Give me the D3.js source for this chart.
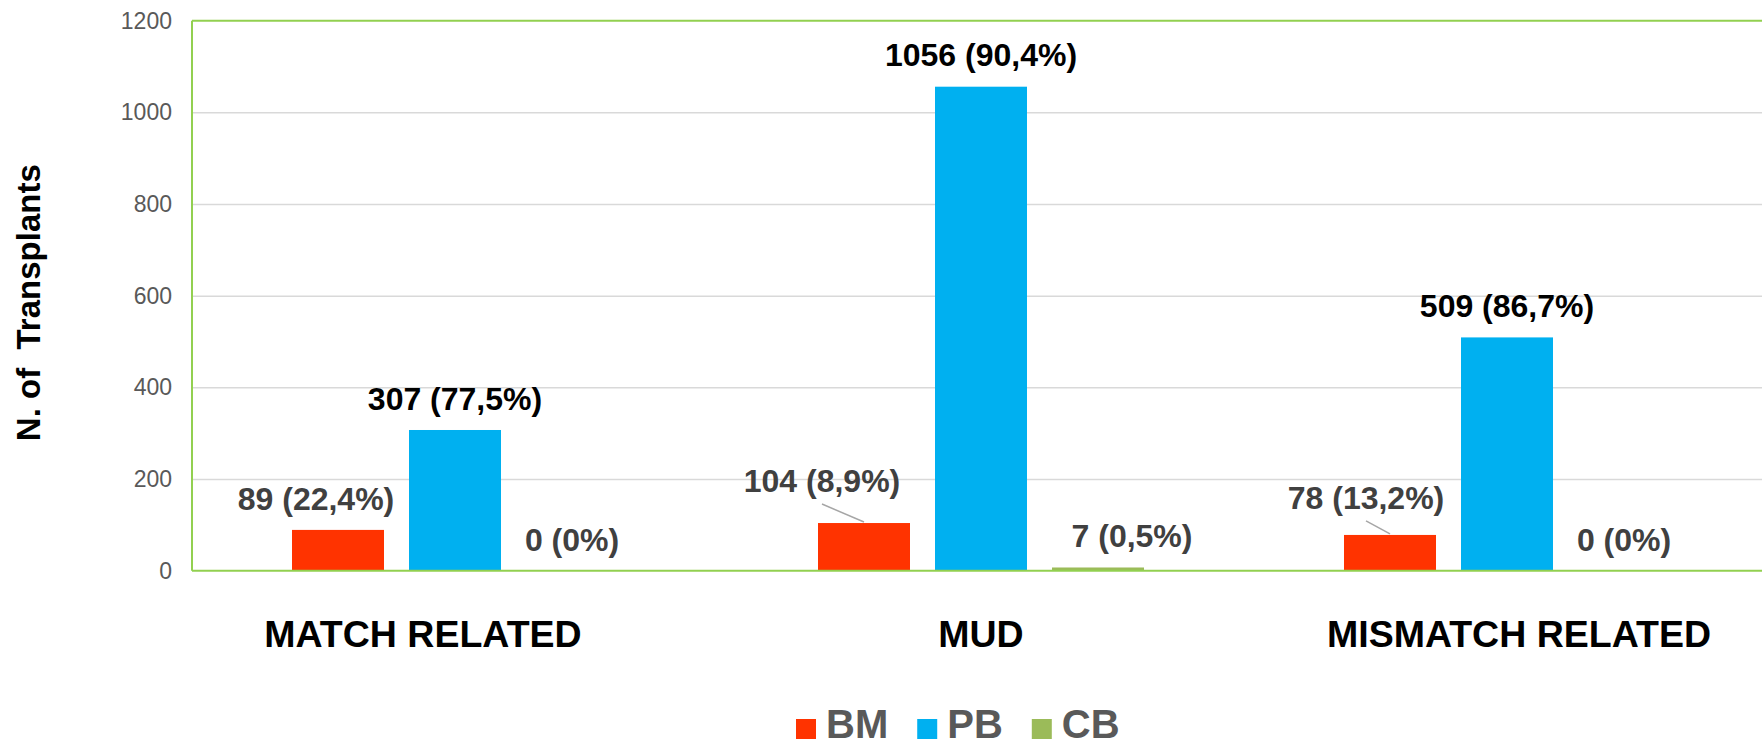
<!DOCTYPE html>
<html>
<head>
<meta charset="utf-8">
<script src="https://cdn.jsdelivr.net/npm/d3@7"></script>
<style>
  html, body { margin: 0; padding: 0; background: #fff; }
  svg { display: block; font-family: "Liberation Sans", Arial, Helvetica, sans-serif; }
</style>
</head>
<body>
<svg id="chart" width="1762" height="747"></svg>
<script>
// ---- data ----
const categories = ["MATCH RELATED", "MUD", "MISMATCH RELATED"];
const seriesNames = ["BM", "PB", "CB"];
const bmValues = [89, 104, 78];
const pbValues = [307, 1056, 509];
const cbValues = [0, 7, 0];
const bmPercents = ["22,4%", "8,9%", "13,2%"];
const pbPercents = ["77,5%", "90,4%", "86,7%"];
const cbPercents = ["0%", "0,5%", "0%"];
const yTicks = [0, 200, 400, 600, 800, 1000, 1200];

// ---- layout / style ----
const colors = { BM: "#ff3300", PB: "#00b0f0", CB: "#9bbb59" };
const labelColors = { BM: "#404040", PB: "#000000", CB: "#404040" };
// manual label nudges [dx, dy] relative to bar centre / bar top (per series, per category)
const labelShift = {
  BM: [[-22, -20], [-42, -31], [-24, -26]],
  PB: [[0, -20], [0, -21], [0, -20]],
  CB: [[0, -20], [34, -20], [0, -20]]
};
const leader = { BM: [false, true, true], PB: [false, false, false], CB: [false, false, false] };
const catLabelShift = [-32, 0, 12];

const svg = d3.select("#chart");
const mLeft = 192, mRight = 1770, mTop = 20.7, mBottom = 570.7;

const x0 = d3.scaleBand().domain(categories).range([mLeft, mRight]);
const x1 = d3.scaleBand().domain(seriesNames).range([-175.5, 175.5])
  .paddingInner(25 / 117).paddingOuter(12.5 / 117);
const y = d3.scaleLinear().domain([0, 1200]).range([mBottom, mTop]);

const values = { BM: bmValues, PB: pbValues, CB: cbValues };
const percents = { BM: bmPercents, PB: pbPercents, CB: cbPercents };

// gridlines
const grid = svg.append("g")
  .attr("transform", `translate(${mLeft},0)`)
  .call(d3.axisLeft(y).tickValues(yTicks.filter(t => t > 0 && t < 1200)).tickSize(-(mRight - mLeft)).tickFormat(""));
grid.select(".domain").remove();
grid.selectAll("line").attr("stroke", "#d9d9d9").attr("stroke-width", 1.5);

// y axis labels
const yAxis = svg.append("g")
  .attr("transform", `translate(${mLeft - 20},0)`)
  .call(d3.axisLeft(y).tickValues(yTicks).tickFormat(d3.format("d")).tickSize(0).tickPadding(0));
yAxis.select(".domain").remove();
yAxis.selectAll("text")
  .attr("font-size", 23).attr("fill", "#595959")
  .attr("font-family", "'Liberation Sans', Arial, sans-serif");

// bars
const data = [];
categories.forEach((c, i) => seriesNames.forEach(s => data.push({ c, i, s, v: values[s][i], p: percents[s][i] })));

svg.append("g").selectAll("rect").data(data).join("rect")
  .attr("x", d => x0(d.c) + x0.bandwidth() / 2 + x1(d.s))
  .attr("width", x1.bandwidth())
  .attr("y", d => y(d.v))
  .attr("height", d => y(0) - y(d.v))
  .attr("fill", d => colors[d.s]);

// plot border (green)
const border = svg.append("g").attr("stroke", "#92d050").attr("stroke-width", 2).attr("fill", "none");
border.append("line").attr("x1", mLeft).attr("x2", mRight).attr("y1", mTop).attr("y2", mTop);
border.append("line").attr("x1", mLeft).attr("x2", mLeft).attr("y1", mTop).attr("y2", mBottom);
border.append("line").attr("x1", mLeft).attr("x2", mRight).attr("y1", mBottom).attr("y2", mBottom);

// leader lines
data.filter(d => leader[d.s][d.i]).forEach(d => {
  const cx = x0(d.c) + x0.bandwidth() / 2 + x1(d.s) + x1.bandwidth() / 2;
  const [dx, dy] = labelShift[d.s][d.i];
  svg.append("line")
    .attr("x1", cx + dx).attr("y1", y(d.v) + dy + 12)
    .attr("x2", cx).attr("y2", y(d.v) - 1)
    .attr("stroke", "#a6a6a6").attr("stroke-width", 1.5);
});

// data labels
svg.append("g").selectAll("text").data(data).join("text")
  .attr("x", d => x0(d.c) + x0.bandwidth() / 2 + x1(d.s) + x1.bandwidth() / 2 + labelShift[d.s][d.i][0])
  .attr("y", d => y(d.v) + labelShift[d.s][d.i][1])
  .attr("text-anchor", "middle")
  .attr("font-size", 32).attr("font-weight", "bold")
  .attr("fill", d => labelColors[d.s])
  .text(d => `${d.v} (${d.p})`);

// category labels
svg.append("g").selectAll("text").data(categories).join("text")
  .attr("x", (c, i) => x0(c) + x0.bandwidth() / 2 + catLabelShift[i])
  .attr("y", 647)
  .attr("text-anchor", "middle")
  .attr("font-size", 37.5).attr("font-weight", "bold").attr("fill", "#000")
  .text(c => c);

// y axis title
svg.append("text")
  .attr("transform", `translate(40, ${(mTop + mBottom) / 2 + 7}) rotate(-90)`)
  .attr("text-anchor", "middle")
  .attr("font-size", 33).attr("font-weight", "bold").attr("fill", "#000")
  .style("white-space", "pre")
  .text("N. of  Transplants");

// legend
const legend = svg.append("g");
let lx = 796;
seriesNames.forEach(s => {
  legend.append("rect").attr("x", lx).attr("y", 719).attr("width", 20).attr("height", 20).attr("fill", colors[s]);
  const t = legend.append("text").attr("x", lx + 30).attr("y", 738)
    .attr("font-size", 40).attr("font-weight", "bold").attr("fill", "#595959").text(s);
  lx += 30 + t.node().getComputedTextLength() + 29;
});
</script>
</body>
</html>
